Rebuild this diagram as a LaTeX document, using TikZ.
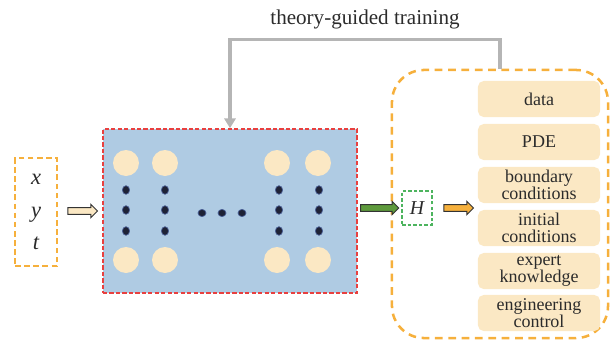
\documentclass[tikz,border=0pt]{standalone}
\usepackage{fontspec}
\setmainfont{Liberation Serif}
\usepackage{xcolor}
\usetikzlibrary{arrows,arrows.meta,shapes,positioning,calc}

\definecolor{boxorange}{HTML}{F6B03C}
\definecolor{netred}{HTML}{E8403F}
\definecolor{netblue}{HTML}{AFCBE3}
\definecolor{cream}{HTML}{FBE8C4}
\definecolor{dotnavy}{HTML}{1E2236}
\definecolor{dotedge}{HTML}{4A5F96}
\definecolor{hgreen}{HTML}{4DB45E}
\definecolor{arrgreen}{HTML}{5E9A3C}
\definecolor{fbgray}{HTML}{B5B5B5}
\definecolor{txt}{HTML}{2B2B2B}

\begin{document}
\begin{tikzpicture}[x=0.025cm, y=-0.025cm, thick, text=txt,
    rule/.style={fill=cream, rounded corners=4pt, minimum width=3.05cm,
        minimum height=0.9cm, text width=3cm, align=center, inner sep=0pt,
        font=\fontsize{12.8}{12.3}\selectfont},
    fatarrow/.style={single arrow, draw=black!80, line width=0.7pt,
        minimum height=21pt, minimum width=8.5pt, inner xsep=0pt, inner ysep=2.1pt,
        single arrow head extend=2.3pt}]
    \useasboundingbox (0,0) rectangle (614,343);

    % Inputs
    \node[draw=boxorange, line width=1.5pt, dash pattern=on 4pt off 2.5pt,
        minimum width=1.05cm, minimum height=2.7cm, inner sep=0pt, align=center,
        font=\fontsize{16}{22}\selectfont\itshape] (in) at (36,212)
        {x\\[0.05cm]y\\[0.05cm]t};

    % Network
    \node[draw=netred, fill=netblue, line width=1.1pt, dash pattern=on 3pt off 1.6pt,
        minimum width=6.35cm, minimum height=4.1cm, inner sep=0pt] (net) at (230,211) {};
    \foreach \x in {126,165,277,318} {
        \fill[cream] (\x,163) circle (13);
        \fill[cream] (\x,260) circle (13);
    }
    \foreach \x in {126,165,279,319}
        \foreach \y in {190,210,231}
            \filldraw[fill=dotnavy, draw=dotedge, line width=0.5pt] (\x,\y) ellipse (3.6 and 4.3);
    \foreach \x in {202,222,242}
        \filldraw[fill=dotnavy, draw=dotedge, line width=0.5pt] (\x,213) ellipse (4 and 3.6);

    % Output H and its constraints
    \node[draw=boxorange, line width=1.8pt, dash pattern=on 5.5pt off 4pt,
        rounded corners=0.8cm, minimum width=5.4cm, minimum height=6.7cm,
        inner sep=0pt] (rules) at (500,204) {};
    \node[draw=hgreen, line width=1pt, dash pattern=on 2.5pt off 1.5pt,
        minimum width=0.75cm, minimum height=0.85cm, inner sep=0pt,
        font=\fontsize{14}{14}\selectfont\itshape] (H) at (417,208) {H};

    \node[rule] (data) at (539,99) {data};
    \node[rule] (pde) at ($(data)+(0,43)$) {PDE};
    \node[rule] (bc) at ($(pde)+(0,43)$) {boundary\\conditions};
    \node[rule] (ic) at ($(bc)+(0,43)$) {initial\\conditions};
    \node[rule] (expert) at ($(ic)+(0,43)$) {expert\\knowledge};
    \node[rule] (control) at ($(expert)+(0,42)$) {engineering\\control};

    % Arrows between stages
    \node[fatarrow, fill=cream] (a1) at (81,211) {};
    \node[fatarrow, fill=arrgreen, minimum height=27pt] (a2) at (378,208) {};
    \node[fatarrow, fill=boxorange] (a3) at (457,208) {};

    % Feedback loop
    \draw[fbgray, line width=2.3pt, -{Triangle[width=8pt,length=7pt]}]
        (rules.north) -- ++(0,-29) -| node[pos=0.25, above=3pt, text=txt,
        font=\fontsize{15}{15}\selectfont] {theory-guided training} (net.north);
\end{tikzpicture}
\end{document}
